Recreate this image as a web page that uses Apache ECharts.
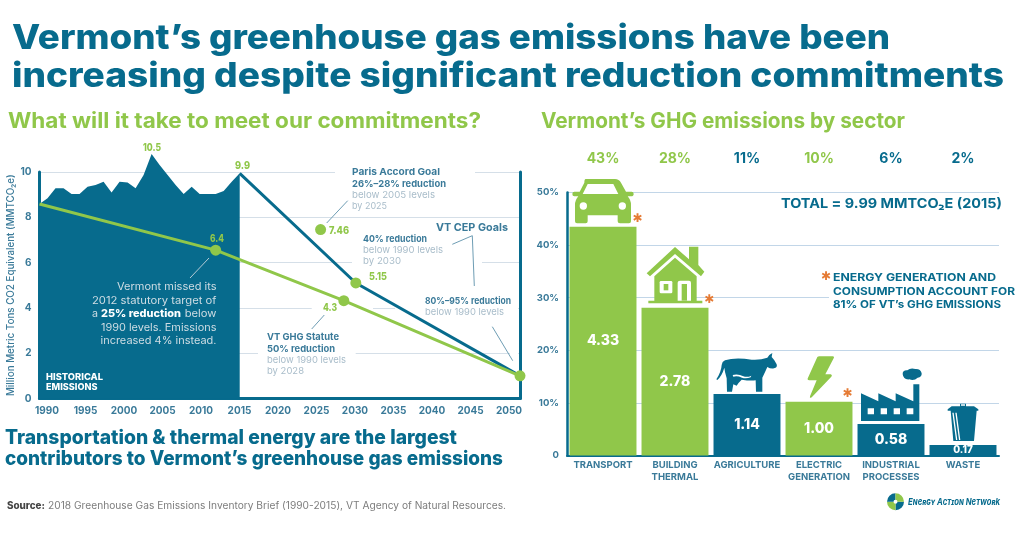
<!DOCTYPE html>
<html><head><meta charset="utf-8">
<style>html,body{margin:0;padding:0;background:#fff}#c{width:1024px;height:536px}</style>
<script src="https://cdn.jsdelivr.net/npm/echarts@6/dist/echarts.min.js"></script>
</head><body><div id="c"></div>
<script>
const TEAL='#076b8d', GREEN='#90c74a', ORANGE='#e57b35', AXT='#3a7a99', PALE='#a9bdca', GRIDL='#d5dfe8', GRIDR='#c2d6e8';
const FONT='Inter';
// left chart data
const histYears=[1990,1991,1992,1993,1994,1995,1996,1997,1998,1999,2000,2001,2002,2003,2004,2005,2006,2007,2008,2009,2010,2011,2012,2013,2014,2015];
const histValues=[8.59,8.84,9.28,9.28,9.03,9.03,9.35,9.43,9.57,9.10,9.57,9.54,9.28,9.87,10.8,10.31,9.87,9.43,9.03,9.35,9.03,9.03,9.03,9.16,9.57,9.94];
const statuteYears=[1990,2012,2028,2050];
const statuteValues=[8.59,6.55,4.32,1];
const cepYears=[2015,2029.5,2050];
const cepValues=[9.94,5.1,1];
const parisYear=[2025.1];
const parisValue=[7.46];
const yearTicks=[1990,1995,2000,2005,2010,2015,2020,2025,2030,2035,2040,2045,2050];
// right chart data
const sectors=['TRANSPORT','BUILDING\nTHERMAL','AGRICULTURE','ELECTRIC\nGENERATION','INDUSTRIAL\nPROCESSES','WASTE'];
const sharePct=[43.5,28.1,11.7,10.2,6,2];
const shareLabels=['43%','28%','11%','10%','6%','2%'];
const mmt=['4.33','2.78','1.14','1.00','0.58','0.17'];
const energyRelated=[true,true,false,true,false,false];

const mc=document.createElement('canvas').getContext('2d');
function T(str,x1,x2,y,size,weight,fill,z){
  const font=weight+' '+size+'px '+FONT;
  mc.font=font;
  const w=mc.measureText(str).width;
  return {type:'text',x:x1,y:y+size*0.05,scaleX:(x2-x1)/w,z:z||10,silent:true,
    style:{text:str,x:0,y:0,font:font,fill:fill,align:'left',verticalAlign:'middle'}};
}
function L(x1,y1,x2,y2,c){return {type:'line',z:10,silent:true,shape:{x1,y1,x2,y2},style:{stroke:c,lineWidth:1}};}
function gap(x1,x2,y){return {type:'rect',z:1,silent:true,shape:{x:x1,y:y-2,width:x2-x1,height:4},style:{fill:'#fff'}};}
function star(x,y,s){return {type:'text',x:x,y:y,z:10,silent:true,style:{text:'\u2731',font:'700 '+(s||11)+'px "DejaVu Sans"',fill:ORANGE,align:'center',verticalAlign:'middle'}};}

// icon outlines: [path, originX, originY, fill]
const icons=[
  ['M62 27H150Q162 27 168 38L183 65H200Q206 65 206 72Q206 79 198 79H188Q198 90 198 105V154Q198 160 192 160H165Q158 160 158 154V136H68V154Q68 160 62 160H36Q30 160 30 154V105Q30 90 40 79H28Q22 79 22 72Q22 65 28 65H44L58 38Q58 27 62 27Z',565,170,GREEN],
  ['M53 72L68 42H145L160 72Z',565,170,'#fff'],
  ['M44 108A11 11 0 1 0 66 108A11 11 0 1 0 44 108ZM161 108A11 11 0 1 0 183 108A11 11 0 1 0 161 108Z',565,170,'#fff'],
  ['M245 310L330 231L372 268V230H400V285L418 305L408 319L330 252L255 319Z',565,170,GREEN],
  ['M268 319L330 263L395 319V392H412V400H250V392H268Z',565,170,GREEN],
  ['M288 333H318Q322 333 322 337V366Q322 370 318 370H288Q284 370 284 366V337Q284 333 288 333Z',565,170,'#fff'],
  ['M345 332H372Q378 332 378 338V392H338V338Q338 332 345 332Z',565,170,'#fff'],
  ['M296 342H310V361H296Z',565,170,GREEN],
  ['M350 342H366V392H350Z',565,170,GREEN],
  ['M45 46Q75 36 125 44Q150 46 172 38L178 30L187 24L185 36Q195 46 200 58Q203 68 192 70Q182 72 172 66Q165 82 157 98V140H138L137 106Q120 108 95 104Q86 112 80 122L70 118L66 140H51L50 100Q44 80 43 68Q36 92 22 105L19 103Q34 80 35 60Q36 50 45 46Z',710,345,TEAL],
  ['M68 90Q85 86 100 94Q112 98 124 92L122 97Q108 102 96 98Q82 92 70 95Z',710,345,'#fff'],
  ['M322 36Q324 34 328 34H368Q374 34 371 40L346 88H362Q368 90 364 95L306 156Q298 162 300 154L320 106H298Q290 104 294 98Z',710,345,GREEN],
  ['M33 100L85 124V100L137 124V100L190 124V73H208V183H33Z',850,360,TEAL],
  ['M53 145H72V163H53ZM92 145H111V163H92ZM131 145H150V163H131ZM170 145H190V163H170Z',850,360,'#fff'],
  ['M158 42Q158 30 172 31Q182 22 196 27Q212 26 215 40Q216 52 203 53Q192 64 178 58Q160 60 158 42Z',850,360,TEAL],
  ['M330 131H348V139H372L385 148V152H380L372 243H310L302 152H293V148L305 139H330Z',850,360,TEAL],
  ['M307 158H311L322 240H318ZM316 158H320L331 240H327ZM333 133H345V137H333Z',850,360,'#fff']
];

const g=[
  gap(335,475,172),gap(352,482,262.4),gap(311.7,373,307),gap(395,518,307),gap(258,355.7,353),gap(510,518,353),
  gap(829,1003,296.3),
  T('Vermont\u2019s greenhouse gas emissions have been',12,890,37,34,800,TEAL),
  T('increasing despite significant reduction commitments',12,1004,75,34,800,TEAL),
  T('What will it take to meet our commitments?',8,481,121,21,700,GREEN),
  T('Vermont\u2019s GHG emissions by sector',541,905,121,21,700,GREEN),
  T('Transportation & thermal energy are the largest',5,457,437,20,800,TEAL),
  T('contributors to Vermont\u2019s greenhouse gas emissions',5,503,458,20,800,TEAL),
  T('Source:',7,45,505.5,10,800,'#444'),
  T('2018 Greenhouse Gas Emissions Inventory Brief (1990-2015), VT Agency of Natural Resources.',48,506,505.5,10,400,'#7d7d7d'),
  T('10.5',143,161,147,10.5,800,GREEN),T('9.9',235,250,165.5,10.5,800,GREEN),T('6.4',210,224,238.7,10.5,800,GREEN),
  T('7.46',329,349,230,10.5,800,GREEN),T('5.15',369,387,276,10.5,800,GREEN),T('4.3',323,337,307,10.5,800,GREEN),
  T('Paris Accord Goal',352,440,172,9.5,700,AXT),T('26%\u201328% reduction',352,446,183.5,9.5,700,AXT),
  T('below 2005 levels',352,435,195,9.5,400,PALE),T('by 2025',352,387,206,9.5,400,PALE),
  T('VT CEP Goals',436,508,227,11,700,AXT),
  T('40% reduction',363,427,238.5,9.5,700,AXT),T('below 1990 levels',363,443,250,9.5,400,PALE),T('by 2030',363,401,261,9.5,400,PALE),
  T('VT GHG Statute',267,339,337,9.5,700,AXT),T('50% reduction',267,335,348.5,9.5,700,AXT),
  T('below 1990 levels',267,346,360,9.5,400,PALE),T('by 2028',267,304,371,9.5,400,PALE),
  T('80%\u201395% reduction',425,511,300.5,9.5,700,AXT),T('below 1990 levels',425,504,312,9.5,400,PALE),
  T('Vermont missed its',117,216.5,286.7,10.5,400,'#cfdde4'),
  T('2012 statutory target of',92,216.5,300,10.5,400,'#cfdde4'),
  T('a',92,98,313.7,10.5,400,'#cfdde4'),T('25% reduction',101,181,313.7,10.5,800,'#fff'),T('below',184.7,216.5,313.7,10.5,400,'#cfdde4'),
  T('1990 levels. Emissions',101,216.5,327,10.5,400,'#cfdde4'),
  T('increased 4% instead.',100.5,216.5,340,10.5,400,'#cfdde4'),
  T('HISTORICAL',46,103,377,9,800,'#fff'),T('EMISSIONS',46,97.5,387,9,800,'#fff'),
  L(209,258,190,278,'#b5cbd6'),L(347.7,200.7,326.7,223,'#6e9db4'),L(472.3,235.7,452.3,244.3,'#6e9db4'),
  L(472.3,235.7,474.3,286,'#6e9db4'),L(492.3,326.7,512.7,360.7,'#6e9db4'),L(324.3,315,311.7,329,'#6e9db4'),
  T('TOTAL = 9.99 MMTCO\u2082E (2015)',781,1002,203.5,13.5,700,TEAL),
  T('ENERGY GENERATION AND',833,996,277,10.5,700,TEAL),
  T('CONSUMPTION ACCOUNT FOR',833,1015,291,10.5,700,TEAL),
  T('81% OF VT\u2019s GHG EMISSIONS',833,1001,304.5,10.5,700,TEAL),
  star(826,277,12),star(637.5,219,12),star(709.3,300,12),star(847.5,394,12),
  {type:'sector',z:6,silent:true,shape:{cx:895.5,cy:501.7,r:8.5,r0:2,startAngle:0,endAngle:Math.PI/2},style:{fill:TEAL}},
  {type:'sector',z:6,silent:true,shape:{cx:895.5,cy:501.7,r:8.5,r0:2,startAngle:Math.PI/2,endAngle:Math.PI},style:{fill:GREEN}},
  {type:'sector',z:6,silent:true,shape:{cx:895.5,cy:501.7,r:8.5,r0:2,startAngle:Math.PI,endAngle:1.5*Math.PI},style:{fill:TEAL}},
  {type:'sector',z:6,silent:true,shape:{cx:895.5,cy:501.7,r:8.5,r0:2,startAngle:1.5*Math.PI,endAngle:2*Math.PI},style:{fill:GREEN}},
  T('Energy Action Network',908,1000,501.5,9.5,'italic small-caps 700',TEAL)
];

const chart=echarts.init(document.getElementById('c'),null,{renderer:'canvas'});
const barColor=i=>energyRelated[i]?GREEN:TEAL;
const lbl=(s)=>({fontFamily:FONT,fontWeight:700,fontSize:s,color:AXT});
const dot=11;
chart.setOption({
  animation:false,backgroundColor:'#fff',
  grid:[{left:39.5,right:504,top:172,bottom:137.5},{left:567,right:25,top:192.5,bottom:80.5}],
  xAxis:[
    {type:'value',gridIndex:0,min:1990,max:2050,interval:5,axisLabel:{show:false},axisTick:{show:false},splitLine:{show:false},
     axisLine:{show:true,onZero:false,lineStyle:{color:TEAL,width:3}}},
    {type:'value',gridIndex:0,position:'bottom',min:1989.03,max:2051.43,axisLine:{show:false},axisTick:{show:false},splitLine:{show:false},
     axisLabel:Object.assign(lbl(10),{customValues:yearTicks,margin:7,formatter:v=>String(v)})},
    {type:'category',gridIndex:1,data:sectors,position:'bottom',axisTick:{show:false},
     axisLine:{lineStyle:{color:TEAL,width:2}},
     axisLabel:Object.assign(lbl(9.5),{interval:0,margin:4,lineHeight:11.5,hideOverlap:false})},
    {type:'category',gridIndex:1,data:shareLabels,position:'top',axisTick:{show:false},axisLine:{show:false},
     axisLabel:{interval:0,margin:27,fontFamily:FONT,fontWeight:700,fontSize:14,color:(v,i)=>barColor(i)}}
  ],
  yAxis:[
    {type:'value',gridIndex:0,min:0,max:10,interval:2,position:'left',axisTick:{show:false},
     axisLine:{show:true,lineStyle:{color:TEAL,width:3}},
     splitLine:{lineStyle:{color:GRIDL,width:1.2}},
     axisLabel:Object.assign(lbl(10),{margin:8}),
     name:'Million Metric Tons CO2 Equivalent (MMTCO\u2082e)',nameLocation:'middle',nameGap:23,
     nameTextStyle:{fontFamily:FONT,fontWeight:500,fontSize:9.8,color:AXT}},
    {type:'value',gridIndex:0,min:0,max:10,interval:2,position:'right',axisTick:{show:false},axisLabel:{show:false},splitLine:{show:false},
     axisLine:{show:true,lineStyle:{color:TEAL,width:3}}},
    {type:'value',gridIndex:1,min:0,max:50,interval:10,axisTick:{show:false},
     axisLine:{show:true,lineStyle:{color:TEAL,width:2.5}},
     splitLine:{lineStyle:{color:GRIDR,width:1}},
     axisLabel:Object.assign(lbl(9.5),{margin:8,formatter:v=>v===0?'0':v+'%'})}
  ],
  series:[
    {name:'Historical emissions',type:'line',xAxisIndex:0,yAxisIndex:0,symbol:'none',lineStyle:{width:0},clip:false,
     areaStyle:{color:TEAL,opacity:1},data:histYears.map((y,i)=>[y,histValues[i]]),z:2},
    {name:'VT CEP',type:'line',xAxisIndex:0,yAxisIndex:0,symbol:'none',clip:false,
     lineStyle:{color:TEAL,width:3},data:cepYears.map((y,i)=>[y,cepValues[i]]),z:3},
    {name:'VT GHG Statute',type:'line',xAxisIndex:0,yAxisIndex:0,lineStyle:{color:GREEN,width:3},symbol:'none',
     data:statuteYears.map((y,i)=>[y,statuteValues[i]]),z:4},
    {name:'Targets',type:'scatter',xAxisIndex:0,yAxisIndex:0,symbolSize:dot,itemStyle:{color:GREEN,opacity:1},z:5,clip:false,
     data:[[statuteYears[1],statuteValues[1]],[statuteYears[2],statuteValues[2]],[statuteYears[3],statuteValues[3]],
           [cepYears[1],cepValues[1]],[parisYear[0],parisValue[0]]]},
    {name:'Share',type:'bar',xAxisIndex:2,yAxisIndex:2,barWidth:'93%',z:3,
     data:sharePct.map((v,i)=>({value:v,itemStyle:{color:barColor(i)},
       label:{show:true,position:'inside',formatter:mmt[i],color:'#fff',fontFamily:FONT,fontWeight:800,fontSize:i===5?10:14}}))},
    {name:'Icons',type:'custom',coordinateSystem:'none',z:6,silent:true,data:[0],
     renderItem:()=>({type:'group',children:icons.map(ic=>({type:'path',x:ic[1],y:ic[2],scaleX:1/3,scaleY:1/3,
        shape:{pathData:ic[0]},style:{fill:ic[3]}}))})}
  ],
  graphic:{elements:g}
});
</script></body></html>
